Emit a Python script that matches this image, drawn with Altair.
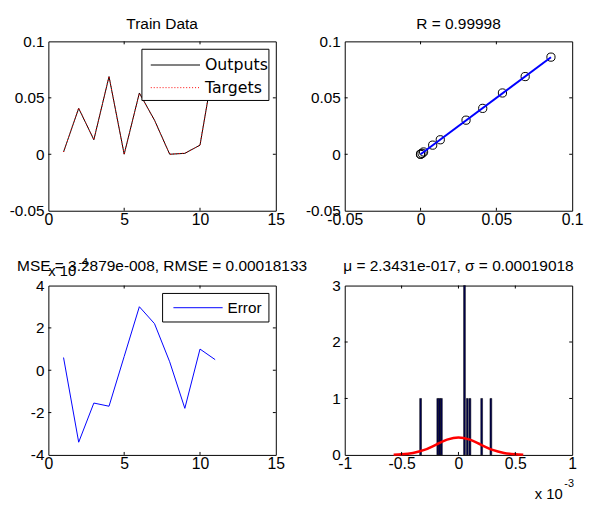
import altair as alt
import pandas as pd

TITLE_FONT = "Liberation Sans"
TICK_FONT = "Liberation Sans"
LEG_FONT = "DejaVu Sans"

W, H = 231, 172

# ---------------- data ----------------
sample = [1, 2, 3, 4, 5, 6, 7, 8, 9, 10, 11]
outputs = [0.00206, 0.04066, 0.012845, 0.06883, 0.000065, 0.0543, 0.03022, 0.00004, 0.00082, 0.0081, 0.08605]
targets = [0.0020, 0.0410, 0.0130, 0.0690, 0.0000, 0.0540, 0.0300, 0.0000, 0.0010, 0.0080, 0.0860]
error_e4 = [0.6, -3.4, -1.55, -1.7, 0.65, 3.0, 2.2, 0.4, -1.8, 1.0, 0.5]  # x 10^-4

fit_t = [0.0, 0.086]
fit_o = [0.0, 0.086]

hist_centers_e3 = [-0.333, -0.182, -0.166, -0.150, 0.053, 0.078, 0.101, 0.204, 0.285]  # x 10^-3
hist_counts = [1, 1, 1, 1, 3, 1, 1, 1, 1]
HIST_BIN = 0.016

curve_x_e3 = [-0.57, -0.5, -0.4, -0.3, -0.2, -0.1, 0.0, 0.1, 0.2, 0.3, 0.4, 0.5, 0.57]
curve_y = [0.005, 0.011, 0.035, 0.088, 0.178, 0.27, 0.31, 0.27, 0.178, 0.088, 0.035, 0.011, 0.005]

tl_xticks = [0, 5, 10, 15]
tl_yticks = [-0.05, 0, 0.05, 0.1]
tr_xticks = [-0.05, 0, 0.05, 0.1]
tr_yticks = [-0.05, 0, 0.05, 0.1]
bl_xticks = [0, 5, 10, 15]
bl_yticks = [-4, -2, 0, 2, 4]
br_xticks = [-1, -0.5, 0, 0.5, 1]
br_yticks = [0, 1, 2, 3]

title_tl = "Train Data"
title_tr = "R = 0.99998"
title_bl = "MSE = 3.2879e-008, RMSE = 0.00018133"
title_br = "\u03bc = 2.3431e-017, \u03c3 = 0.00019018"


# ---------------- helpers ----------------
def scale(ticks):
    return alt.Scale(domain=[ticks[0], ticks[-1]], nice=False, zero=False)


def xaxis(ticks):
    return alt.Axis(values=ticks, labelExpr="'' + datum.value", ticks=False,
                    domain=False, grid=False, title=None, labelPadding=1,
                    labelFont=TICK_FONT, labelFontSize=16, labelColor="black",
                    labelFlush=False, labelOverlap=False)


def yaxis(ticks):
    return alt.Axis(values=ticks, labelExpr="'' + datum.value", ticks=False,
                    domain=False, grid=False, title=None, labelPadding=4.5,
                    labelFont=TICK_FONT, labelFontSize=15.5, labelColor="black",
                    labelOverlap=False, minExtent=40, maxExtent=40)


def tick_layers(xticks, yticks):
    xs, ys = scale(xticks), scale(yticks)
    dfx = pd.DataFrame({"x": xticks[1:-1]})
    dfy = pd.DataFrame({"y": yticks[1:-1]})
    bx = alt.X("x:Q", scale=xs)
    by = alt.Y("y:Q", scale=ys)
    return [
        alt.Chart(dfx).mark_rule(color="black").encode(x=bx, y=alt.value(H), y2=alt.value(H - 3)),
        alt.Chart(dfx).mark_rule(color="black").encode(x=bx, y=alt.value(0), y2=alt.value(3)),
        alt.Chart(dfy).mark_rule(color="black").encode(y=by, x=alt.value(0), x2=alt.value(3)),
        alt.Chart(dfy).mark_rule(color="black").encode(y=by, x=alt.value(W), x2=alt.value(W - 3)),
    ]


def text(t, x, y, size, font=TITLE_FONT, align="center", baseline="alphabetic"):
    return alt.Chart(pd.DataFrame({"t": [t]})).mark_text(
        align=align, baseline=baseline, fontSize=size, font=font, color="black"
    ).encode(x=alt.value(x), y=alt.value(y), text="t:N")


def box(x0, x1, y0, y1):
    return alt.Chart(pd.DataFrame({"a": [0]})).mark_rect(
        fill="white", stroke="black", strokeWidth=1
    ).encode(x=alt.value(x0), x2=alt.value(x1), y=alt.value(y0), y2=alt.value(y1))


def sample_line(x0, x1, y, color, dash=None):
    kw = dict(color=color, strokeWidth=1)
    if dash:
        kw["strokeDash"] = dash
    return alt.Chart(pd.DataFrame({"a": [0]})).mark_rule(**kw).encode(
        x=alt.value(x0), x2=alt.value(x1), y=alt.value(y))


# ---------------- top-left: train data ----------------
xs, ys = scale(tl_xticks), scale(tl_yticks)
tl_out = alt.Chart(pd.DataFrame({"x": sample, "y": outputs})).mark_line(color="black", strokeWidth=1).encode(
    x=alt.X("x:Q", scale=xs, axis=xaxis(tl_xticks)),
    y=alt.Y("y:Q", scale=ys, axis=yaxis(tl_yticks)))
tl_tgt = alt.Chart(pd.DataFrame({"x": sample, "y": targets})).mark_line(
    color="red", strokeWidth=1, strokeDash=[1, 2]).encode(
    x=alt.X("x:Q", scale=xs), y=alt.Y("y:Q", scale=ys))
tl = alt.layer(
    tl_out, tl_tgt, *tick_layers(tl_xticks, tl_yticks),
    box(95, 224, 8, 60),
    sample_line(104, 154, 24, "black"),
    sample_line(104, 154, 47, "red", [1, 2]),
    text("Outputs", 159, 24, 16, LEG_FONT, "left", "middle"),
    text("Targets", 159, 47, 16, LEG_FONT, "left", "middle"),
    text(title_tl, W / 2, -13, 15.7),
).properties(width=W, height=H)

# ---------------- top-right: regression ----------------
xs, ys = scale(tr_xticks), scale(tr_yticks)
tr_pts = alt.Chart(pd.DataFrame({"x": targets, "y": outputs})).mark_point(
    shape="circle", size=70, filled=False, color="black", strokeWidth=1, opacity=1).encode(
    x=alt.X("x:Q", scale=xs, axis=xaxis(tr_xticks)),
    y=alt.Y("y:Q", scale=ys, axis=yaxis(tr_yticks)))
tr_fit = alt.Chart(pd.DataFrame({"x": fit_t, "y": fit_o})).mark_line(color="#0000ff", strokeWidth=2).encode(
    x=alt.X("x:Q", scale=xs), y=alt.Y("y:Q", scale=ys))
tr = alt.layer(
    tr_pts, tr_fit, *tick_layers(tr_xticks, tr_yticks),
    text(title_tr, W / 2, -13, 15.7),
).properties(width=W, height=H)

# ---------------- bottom-left: error ----------------
xs, ys = scale(bl_xticks), scale(bl_yticks)
bl_err = alt.Chart(pd.DataFrame({"x": sample, "y": error_e4})).mark_line(color="#0000ff", strokeWidth=1).encode(
    x=alt.X("x:Q", scale=xs, axis=xaxis(bl_xticks)),
    y=alt.Y("y:Q", scale=ys, axis=yaxis(bl_yticks)))
bl = alt.layer(
    bl_err, *tick_layers(bl_xticks, bl_yticks),
    box(116, 224, 8, 37),
    sample_line(127, 177, 22.5, "#0000ff"),
    text("Error", 182, 22.5, 15.5, TITLE_FONT, "left", "middle"),
    text(title_bl, W / 2, -15, 15.7),
    text("x 10", 0, -10, 15, TITLE_FONT, "left"),
    text("-4", 30.5, -20, 11, TITLE_FONT, "left"),
).properties(width=W, height=H)

# ---------------- bottom-right: histogram ----------------
xs, ys = scale(br_xticks), scale(br_yticks)
hist_df = pd.DataFrame({
    "x": [c - HIST_BIN / 2 for c in hist_centers_e3],
    "x1": [c + HIST_BIN / 2 for c in hist_centers_e3],
    "y": hist_counts,
    "y0": [0] * len(hist_counts),
})
br_bars = alt.Chart(hist_df).mark_rect(fill="#000050", stroke="black", strokeWidth=0.5).encode(
    x=alt.X("x:Q", scale=xs, axis=xaxis(br_xticks)),
    x2="x1:Q",
    y=alt.Y("y:Q", scale=ys, axis=yaxis(br_yticks)),
    y2="y0:Q")
br_curve = alt.Chart(pd.DataFrame({"x": curve_x_e3, "y": curve_y})).mark_line(
    color="#ff0000", strokeWidth=2.5, interpolate="monotone").encode(
    x=alt.X("x:Q", scale=xs), y=alt.Y("y:Q", scale=ys))
br = alt.layer(
    br_bars, br_curve, *tick_layers(br_xticks, br_yticks),
    text(title_br, W / 2, -15, 15.7),
    text("x 10", 193, 217, 15, TITLE_FONT, "left"),
    text("-3", 223, 205, 11, TITLE_FONT, "left"),
).properties(width=W, height=H)

chart = alt.concat(
    tl, tr, bl, br, columns=2, spacing={"row": 76, "column": 70}, bounds="flush"
).properties(
    padding={"left": 0, "top": 3, "right": 0, "bottom": 0}, background="white"
).configure_view(stroke="black", strokeWidth=1)

chart.save("out.html", embed_options={"renderer": "svg", "actions": False})
